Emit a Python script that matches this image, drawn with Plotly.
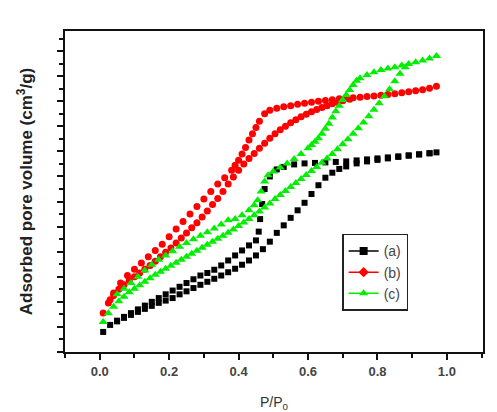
import plotly.graph_objects as go

# (a) adsorption / desorption
a_ads_x = [0.01,0.03,0.05,0.07,0.09,0.11,0.13,0.15,0.17,0.19,0.21,0.23,0.25,0.27,0.29,0.31,0.33,0.35,0.37,0.39,0.41,0.43,0.45,0.47,0.49,0.51,0.53,0.55,0.57,0.59,0.61,0.63,0.65,0.67,0.69,0.71,0.74,0.77,0.80,0.83,0.86,0.89,0.92,0.95,0.97]
a_ads_y = [0.80,1.08,1.22,1.36,1.48,1.60,1.72,1.84,1.96,2.05,2.15,2.30,2.42,2.55,2.68,2.80,2.92,3.05,3.18,3.32,3.48,3.65,3.85,4.10,4.40,4.75,5.05,5.35,5.65,5.95,6.30,6.65,6.95,7.15,7.30,7.40,7.52,7.60,7.66,7.72,7.78,7.83,7.88,7.93,7.96]
a_des_x = [0.95,0.92,0.89,0.86,0.83,0.80,0.77,0.74,0.71,0.68,0.65,0.62,0.59,0.56,0.53,0.51,0.49,0.475,0.468,0.462,0.458,0.45,0.43,0.41,0.39,0.37,0.35,0.33,0.31,0.29,0.27,0.25,0.23,0.21,0.19,0.17,0.15,0.13,0.11,0.09,0.07,0.05]
a_des_y = [7.92,7.88,7.84,7.80,7.76,7.72,7.68,7.64,7.60,7.58,7.56,7.54,7.52,7.48,7.38,7.28,7.00,6.50,5.90,5.30,4.80,4.45,4.25,4.05,3.85,3.65,3.45,3.28,3.15,3.05,2.90,2.75,2.60,2.45,2.30,2.15,2.00,1.85,1.70,1.55,1.40,1.25]

# (b)
b_ads_x = [0.01,0.025,0.04,0.055,0.07,0.085,0.10,0.115,0.13,0.145,0.16,0.175,0.19,0.205,0.22,0.235,0.25,0.265,0.28,0.295,0.31,0.325,0.34,0.355,0.37,0.385,0.40,0.415,0.43,0.445,0.46,0.475,0.49,0.505,0.52,0.535,0.55,0.565,0.58,0.595,0.61,0.625,0.64,0.655,0.67,0.685,0.70,0.72]
b_ads_y = [1.56,1.95,2.25,2.50,2.68,2.85,3.00,3.15,3.30,3.45,3.62,3.80,3.98,4.15,4.35,4.55,4.75,4.95,5.15,5.38,5.62,5.88,6.12,6.40,6.70,6.98,7.25,7.50,7.72,7.92,8.12,8.32,8.52,8.70,8.86,9.00,9.14,9.26,9.38,9.48,9.58,9.67,9.75,9.82,9.90,9.96,10.02,10.08]
b_des_x = [0.97,0.95,0.93,0.91,0.89,0.87,0.85,0.83,0.81,0.79,0.77,0.75,0.73,0.71,0.69,0.67,0.65,0.63,0.61,0.59,0.57,0.55,0.53,0.51,0.49,0.475,0.46,0.45,0.44,0.43,0.42,0.41,0.40,0.39,0.38,0.36,0.34,0.32,0.30,0.28,0.26,0.24,0.22,0.20,0.18,0.16,0.14,0.12,0.10,0.08,0.06,0.04,0.03]
b_des_y = [10.60,10.52,10.46,10.42,10.38,10.34,10.30,10.27,10.24,10.21,10.19,10.16,10.14,10.12,10.10,10.06,10.03,10.00,9.96,9.92,9.88,9.82,9.78,9.72,9.64,9.50,9.20,8.95,8.70,8.45,8.15,7.90,7.65,7.45,7.25,6.95,6.70,6.40,6.10,5.80,5.50,5.20,4.90,4.60,4.30,4.05,3.80,3.55,3.30,3.05,2.75,2.35,2.08]

# (c)
c_ads_x = [0.01,0.025,0.04,0.055,0.07,0.085,0.10,0.115,0.13,0.145,0.16,0.175,0.19,0.205,0.22,0.235,0.25,0.265,0.28,0.295,0.31,0.325,0.34,0.355,0.37,0.385,0.40,0.415,0.43,0.445,0.46,0.475,0.49,0.505,0.52,0.535,0.55,0.565,0.58,0.595,0.61,0.625,0.64,0.655,0.67,0.685,0.70,0.715,0.73,0.745,0.76,0.775,0.79,0.805,0.82,0.835,0.85,0.865,0.88]
c_ads_y = [1.20,1.55,1.80,2.02,2.20,2.38,2.52,2.66,2.80,2.94,3.08,3.20,3.32,3.44,3.56,3.68,3.80,3.92,4.04,4.16,4.28,4.40,4.52,4.64,4.76,4.88,5.02,5.16,5.30,5.45,5.60,5.76,5.92,6.10,6.26,6.42,6.58,6.74,6.90,7.06,7.22,7.38,7.55,7.72,7.90,8.08,8.28,8.48,8.70,8.92,9.15,9.40,9.66,9.92,10.20,10.48,10.80,11.10,11.35]
c_des_x = [0.97,0.95,0.93,0.91,0.89,0.87,0.85,0.83,0.81,0.79,0.77,0.75,0.74,0.73,0.72,0.71,0.70,0.69,0.68,0.67,0.66,0.65,0.64,0.63,0.62,0.61,0.60,0.58,0.56,0.54,0.52,0.50,0.485,0.475,0.465,0.455,0.445,0.43,0.41,0.39,0.37,0.35,0.33,0.31,0.29,0.27,0.25,0.23,0.21,0.19,0.17,0.15,0.13,0.11,0.09,0.07,0.05]
c_des_y = [11.80,11.70,11.62,11.55,11.48,11.42,11.35,11.30,11.24,11.16,11.05,10.92,10.82,10.65,10.45,10.25,10.05,9.82,9.60,9.35,9.10,8.90,8.70,8.52,8.38,8.25,8.12,7.90,7.70,7.52,7.36,7.20,7.05,6.80,6.40,6.05,5.85,5.65,5.45,5.30,5.25,5.08,4.92,4.78,4.64,4.50,4.35,4.20,4.02,3.85,3.68,3.48,3.25,3.00,2.75,2.52,2.30]

labels = ["(a)", "(b)", "(c)"]
colors = ["#000000", "#ff0000", "#00ee00"]
symbols = ["square", "circle", "triangle-up"]
legend_symbols = ["square", "diamond", "triangle-up"]
sizes = [6, 7, 8]

series = [
    (a_ads_x, a_ads_y, a_des_x, a_des_y),
    (b_ads_x, b_ads_y, b_des_x, b_des_y),
    (c_ads_x, c_ads_y, c_des_x, c_des_y),
]

fig = go.Figure()
for i, (ax, ay, dx, dy) in enumerate(series):
    for xs, ys in ((ax, ay), (dx, dy)):
        fig.add_trace(go.Scatter(
            x=xs, y=ys, mode="markers", showlegend=False,
            marker=dict(symbol=symbols[i], size=sizes[i], color=colors[i], line=dict(width=0)),
        ))

for i in range(3):
    fig.add_trace(go.Scatter(
        x=[None], y=[None], mode="lines+markers", name=labels[i],
        line=dict(color=colors[i], width=1.5),
        marker=dict(symbol=legend_symbols[i], size=8, color=colors[i]),
    ))

fig.update_layout(
    width=497, height=412,
    margin=dict(l=65, r=14, t=31, b=60),
    paper_bgcolor="white", plot_bgcolor="white",
    font=dict(family="Arial, Liberation Sans", color="#333"),
    legend=dict(
        x=0.663, y=0.368, xanchor="left", yanchor="top",
        bordercolor="#222", borderwidth=1.5, bgcolor="white",
        font=dict(size=14, color="#444"), tracegroupgap=0,
        itemwidth=30,
    ),
    xaxis=dict(
        range=[-0.1, 1.104], tick0=0, dtick=0.2, automargin=False,
        showgrid=False, zeroline=False,
        showline=True, linecolor="#111", linewidth=2, mirror=True,
        ticks="outside", ticklen=6, tickwidth=2, tickcolor="#111",
        minor=dict(dtick=0.1, tick0=0, ticks="outside", ticklen=4, tickwidth=2, tickcolor="#111"),
        tickformat=".1f",
        tickfont=dict(family="Arial, Liberation Sans", size=13, weight="bold", color="#444"),
        title=dict(text="P/P<sub>0</sub>", font=dict(size=14, color="#333"), standoff=20),
    ),
    yaxis=dict(
        range=[0, 12.8], tick0=0, dtick=1, automargin=False,
        showgrid=False, zeroline=False, showticklabels=False,
        showline=True, linecolor="#111", linewidth=2, mirror=True,
        ticks="outside", ticklen=6, tickwidth=2, tickcolor="#111",
        minor=dict(dtick=0.5, tick0=0, ticks="outside", ticklen=4, tickwidth=2, tickcolor="#111"),
        title=dict(text="Adsorbed pore volume (cm<sup>3</sup>/g)",
                   font=dict(family="Liberation Sans Narrow, Arial", size=17, weight="bold", color="#222"), standoff=20),
    ),
)

fig.write_html("out.html")
